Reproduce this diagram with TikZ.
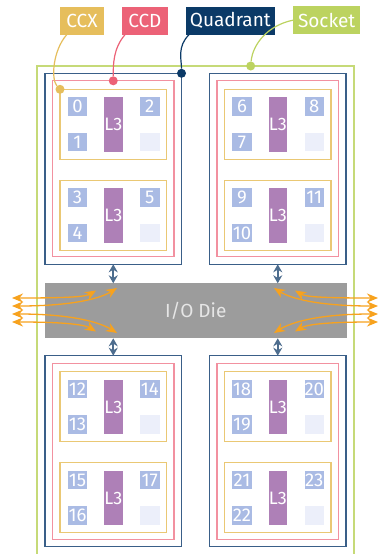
\documentclass[tikz,border=0pt]{standalone}
\usepackage{fontspec}
\setmainfont{Fira Sans}
\usetikzlibrary{arrows.meta,calc}

\definecolor{ccxcol}{HTML}{E6BE5C}
\definecolor{ccdcol}{HTML}{EC6277}
\definecolor{quadcol}{HTML}{0B3A67}
\definecolor{sockcol}{HTML}{BCD360}
\definecolor{corecol}{HTML}{AABBE4}
\definecolor{emptycol}{HTML}{ECEFFA}
\definecolor{cachecol}{HTML}{AE80B7}
\definecolor{diecol}{HTML}{9C9C9C}
\definecolor{dietext}{HTML}{E6E6E6}
\definecolor{linkcol}{HTML}{4D6D8E}
\definecolor{flowcol}{HTML}{F7A21E}
\definecolor{quadline}{HTML}{3A5F88}

\tikzset{
  box/.style={rectangle, inner sep=0pt, outer sep=0pt},
  sockbox/.style={box, draw=sockcol!85, line width=1.3pt, anchor=north west},
  quadbox/.style={box, draw=quadline, line width=1.4pt, minimum width=136.5pt, minimum height=191pt, anchor=north west},
  ccdbox/.style={box, draw=ccdcol!70, line width=1.3pt, minimum width=121.5pt, minimum height=176pt, anchor=north west},
  ccxbox/.style={box, draw=ccxcol!85, line width=1.2pt, minimum width=106.5pt, minimum height=70pt, anchor=north west},
  core/.style={box, fill=corecol, text=white, minimum width=19.5pt, minimum height=18.5pt, anchor=north west, font=\fontsize{18.5}{18.5}\selectfont},
  emptycore/.style={box, fill=emptycol, minimum width=19.5pt, minimum height=18.5pt, anchor=north west},
  cache/.style={box, fill=cachecol, text=white, minimum width=18.7pt, minimum height=54.7pt, anchor=north west, font=\fontsize{18}{18}\selectfont},
  tag/.style={box, text=white, minimum height=28pt, anchor=north west, font=\fontsize{19}{19}\selectfont},
  tagline/.style={line width=1.2pt},
  tagdot/.style={circle, inner sep=0pt, minimum size=9pt},
  linkarrow/.style={draw=linkcol, line width=1.8pt, {Stealth[length=8pt,width=9pt]}-{Stealth[length=8pt,width=9pt]}},
  flow/.style={draw=flowcol, line width=1.3pt, {Stealth[length=11pt,width=9pt,inset=3.5pt]}-{Stealth[length=11pt,width=9pt,inset=3.5pt]}},
}

% one CCX: two cores, a third core, an unused slot and the shared L3
\newcommand{\ccxunit}[6]{%
  \node[ccxbox] (#1) at (#2,#3) {};
  \node[core] (#1-a) at (#2+7.7,#3+8) {#4};
  \node[core] (#1-b) at (#2+7.7,#3+43.4) {#5};
  \node[core] (#1-c) at (#2+80,#3+8) {#6};
  \node[emptycore] (#1-d) at (#2+80,#3+43.4) {};
  \node[cache] (#1-l3) at (#2+44,#3+8) {L3};
}
% one quadrant: outer frame, CCD frame and two CCX units
\newcommand{\quadunit}[9]{%
  \node[quadbox] (#1) at (#2,#3) {};
  \node[ccdbox] (#1-ccd) at (#2+7.5,#3+7.5) {};
  \ccxunit{#1-x1}{#2+15}{#3+16}{#4}{#5}{#6}
  \ccxunit{#1-x2}{#2+15}{#3+107}{#7}{#8}{#9}
}

\begin{document}
\begin{tikzpicture}[x=1pt,y=-1pt]
\useasboundingbox (0,0) rectangle (379,554);
\fill[white] (0,0) rectangle (379,554);
\clip (0,0) rectangle (379,554);

% socket frame (runs past the lower edge)
\node[sockbox, minimum width=317pt, minimum height=510pt] (socket) at (37,66) {};

% four quadrants
\quadunit{q1}{45}{73.3}{0}{1}{2}{3}{4}{5}
\quadunit{q2}{209.5}{73.3}{6}{7}{8}{9}{10}{11}
\quadunit{q3}{45}{355.7}{12}{13}{14}{15}{16}{17}
\quadunit{q4}{209.5}{355.7}{18}{19}{20}{21}{22}{23}

% I/O die
\node[box, fill=diecol, minimum width=301.5pt, minimum height=55pt, anchor=north west,
      text=dietext, font=\fontsize{19}{19}\selectfont] (die) at (45,283.3) {I/O Die};

% quadrant links
\draw[linkarrow] (q1.south) -- (die.north -| q1.south);
\draw[linkarrow] (q2.south) -- (die.north -| q2.south);
\draw[linkarrow] (q3.north) -- (die.south -| q3.north);
\draw[linkarrow] (q4.north) -- (die.south -| q4.north);

% external I/O lanes, left
\coordinate (wl1) at (12,298);
\coordinate (wl2) at (12,306);
\coordinate (wl3) at (12,314);
\coordinate (wl4) at (12,322);
\coordinate (il1) at (96,290.5);
\coordinate (il2) at (117,288);
\coordinate (il3) at (117,333);
\coordinate (il4) at (96,331.5);
\draw[flow] (wl1) .. controls +(60,0) and +(-10,6) .. (il1);
\draw[flow] (wl2) .. controls +(62,0) and +(-16,10) .. (il2);
\draw[flow] (wl3) .. controls +(62,0) and +(-16,-10) .. (il3);
\draw[flow] (wl4) .. controls +(60,0) and +(-10,-6) .. (il4);

% external I/O lanes, right
\coordinate (wr1) at (378,298);
\coordinate (wr2) at (378,306);
\coordinate (wr3) at (378,314);
\coordinate (wr4) at (378,322);
\coordinate (ir1) at (295,290.5);
\coordinate (ir2) at (274,288);
\coordinate (ir3) at (274,333);
\coordinate (ir4) at (295,331.5);
\draw[flow] (wr1) .. controls +(-60,0) and +(10,6) .. (ir1);
\draw[flow] (wr2) .. controls +(-62,0) and +(16,10) .. (ir2);
\draw[flow] (wr3) .. controls +(-62,0) and +(16,-10) .. (ir3);
\draw[flow] (wr4) .. controls +(-60,0) and +(10,-6) .. (ir4);

% legend tags
\node[tag, fill=ccxcol, minimum width=44pt] (tccx) at (60,6.7) {CCX};
\node[tag, fill=ccdcol, minimum width=45.7pt] (tccd) at (122,6.7) {CCD};
\node[tag, fill=quadcol, minimum width=89.3pt] (tquad) at (185.7,6.7) {Quadrant};
\node[tag, fill=sockcol, minimum width=67.3pt] (tsock) at (293,6.2) {Socket};

% markers on the framed parts
\node[tagdot, fill=ccxcol] (dccx) at (q1-x1.north west) {};
\node[tagdot, fill=ccdcol] (dccd) at (q1-ccd.north) {};
\node[tagdot, fill=quadcol] (dquad) at (q1.north east) {};
\node[tagdot, fill=sockcol] (dsock) at ($(socket.north west)+(213.7,0)$) {};

% tag leaders
\draw[tagline, ccxcol] ($(tccx.south west)+(6.7,0)$) .. controls +(-14,16) and +(-9,-10) .. (dccx);
\draw[tagline, ccdcol] ($(tccd.south west)+(3,0)$) .. controls +(-12,14) and +(0,-16) .. (dccd);
\draw[tagline, quadcol] ($(tquad.south west)+(3.3,0)$) .. controls +(-12,12) and +(0,-14) .. (dquad);
\draw[tagline, sockcol] (tsock.west) .. controls +(-25,5) and +(2,-22) .. (dsock);
\end{tikzpicture}
\end{document}
